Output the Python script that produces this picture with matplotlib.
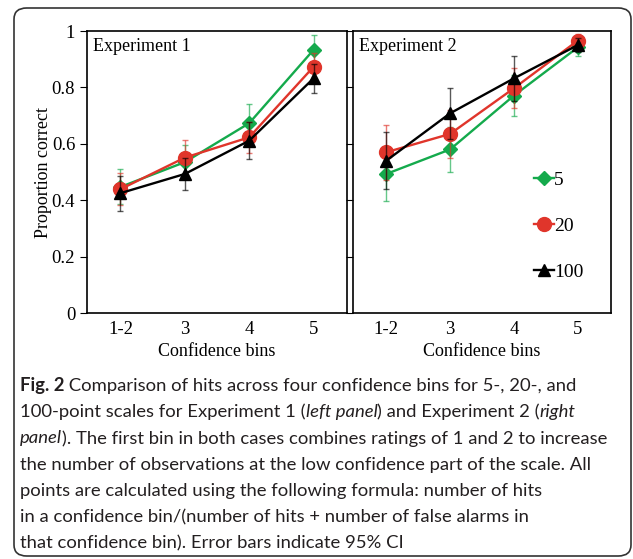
import numpy as np
import matplotlib.pyplot as plt
from matplotlib.patches import FancyBboxPatch

bins = ['1-2', '3', '4', '5']
scales = ['5', '20', '100']

# Experiment 1: proportion correct and 95% CI half-widths
exp1_5 = [0.447, 0.535, 0.673, 0.933]
exp1_5_ci = [0.062, 0.060, 0.067, 0.053]
exp1_20 = [0.439, 0.551, 0.623, 0.873]
exp1_20_ci = [0.056, 0.062, 0.055, 0.050]
exp1_100 = [0.425, 0.493, 0.611, 0.832]
exp1_100_ci = [0.062, 0.057, 0.065, 0.051]

# Experiment 2
exp2_5 = [0.493, 0.580, 0.771, 0.942]
exp2_5_ci = [0.096, 0.080, 0.072, 0.030]
exp2_20 = [0.570, 0.635, 0.797, 0.966]
exp2_20_ci = [0.098, 0.086, 0.071, 0.023]
exp2_100 = [0.540, 0.708, 0.832, 0.950]
exp2_100_ci = [0.102, 0.090, 0.080, 0.025]

colors = ['#14AA4C', '#E0352B', '#000000']
markers = ['D', 'o', '^']
msizes = [7, 10, 9]

caption = [
    [("Fig. 2", 'bold', 'normal'), (" Comparison of hits across four confidence bins for 5-, 20-, and", 'normal', 'normal')],
    [("100-point scales for Experiment 1 (", 'normal', 'normal'), ("left panel", 'normal', 'italic'),
     (") and Experiment 2 (", 'normal', 'normal'), ("right", 'normal', 'italic')],
    [("panel", 'normal', 'italic'), ("). The first bin in both cases combines ratings of 1 and 2 to increase", 'normal', 'normal')],
    [("the number of observations at the low confidence part of the scale. All", 'normal', 'normal')],
    [("points are calculated using the following formula: number of hits", 'normal', 'normal')],
    [("in a confidence bin/(number of hits + number of false alarms in", 'normal', 'normal')],
    [("that confidence bin). Error bars indicate 95% CI", 'normal', 'normal')],
]

plt.rcParams['font.family'] = 'Liberation Serif'
plt.rcParams['font.size'] = 13

W, H = 633, 559
fig = plt.figure(figsize=(W / 100, H / 100), dpi=100)

# rounded frame around figure + caption
frame = FancyBboxPatch((14 / W, 3 / H), 617 / W, 548 / H,
                       boxstyle="round,pad=0,rounding_size=0.02",
                       transform=fig.transFigure, fill=False,
                       ec='#333333', lw=1.2)
fig.patches.append(frame)

ax1 = fig.add_axes([87 / W, 1 - 313 / H, 260 / W, 282 / H])
ax2 = fig.add_axes([353 / W, 1 - 313 / H, 258 / W, 282 / H])


def draw_panel(ax, series, title):
    x = np.arange(len(bins))
    for i, (vals, ci) in enumerate(series):
        ax.errorbar(x, vals, yerr=ci, fmt='none', ecolor=colors[i], alpha=0.65,
                    elinewidth=1, capsize=2.5, capthick=1, zorder=2 + i)
        ax.plot(x, vals, color=colors[i], marker=markers[i], ms=msizes[i],
                lw=1.7, label=scales[i], zorder=2.5 + i)
    ax.set_xlim(-0.52, 3.52)
    ax.set_ylim(0, 1)
    ax.set_xticks(x)
    ax.set_xticklabels(bins)
    ax.set_yticks([0, 0.2, 0.4, 0.6, 0.8, 1.0])
    ax.tick_params(axis='x', length=0, pad=6, labelsize=13.5)
    ax.tick_params(axis='y', length=5, direction='out', labelsize=13.5)
    ax.set_xlabel('Confidence bins', labelpad=3)
    ax.text(0.022, 0.975, title, transform=ax.transAxes, ha='left', va='top')
    for s in ax.spines.values():
        s.set_linewidth(1.2)


draw_panel(ax1, [(exp1_5, exp1_5_ci), (exp1_20, exp1_20_ci), (exp1_100, exp1_100_ci)], 'Experiment 1')
draw_panel(ax2, [(exp2_5, exp2_5_ci), (exp2_20, exp2_20_ci), (exp2_100, exp2_100_ci)], 'Experiment 2')

ax1.set_yticklabels(['0', '0.2', '0.4', '0.6', '0.8', '1'])
ax1.set_ylabel('Proportion correct')
ax1.yaxis.set_label_coords(-0.135, 0.5)
ax2.set_yticklabels([])

ax2.legend(loc='upper left', bbox_to_anchor=(0.665, 0.536), frameon=False,
           handlelength=1.0, handletextpad=0.0, labelspacing=1.45,
           borderpad=0, fontsize=14)

# caption, drawn piece by piece for bold / italic runs
renderer = fig.canvas.get_renderer()
cap_font = 'Lato'
cap_size = 13.3
x0 = 20
y0 = 386
line_step = 26.2
for k, line in enumerate(caption):
    xpos = x0
    ypx = y0 + k * line_step
    for txt, weight, style in line:
        t = fig.text(xpos / W, 1 - ypx / H, txt, family=cap_font, size=cap_size,
                     weight=weight, style=style, va='center', ha='left', color='#231F20')
        bb = t.get_window_extent(renderer)
        xpos += bb.width

fig.savefig('out.png', dpi=100)
